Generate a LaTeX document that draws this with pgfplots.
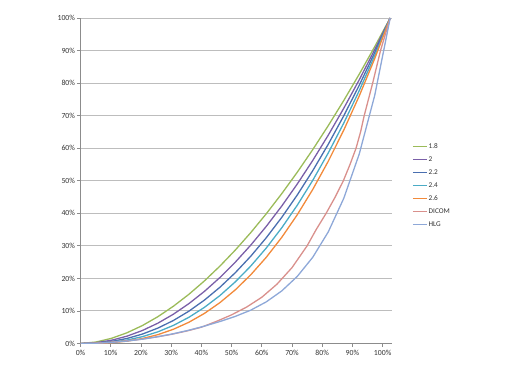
\documentclass[border=0pt]{standalone}
\usepackage{pgfplots}
\pgfplotsset{compat=1.18}
\usepackage{pgfplotstable}
\usepackage{fontspec}
\setmainfont{Carlito}

\definecolor{cg18}{HTML}{9BBB59}
\definecolor{cg20}{HTML}{7A5FA8}
\definecolor{cg22}{HTML}{4A6FB0}
\definecolor{cg24}{HTML}{4BACC6}
\definecolor{cg26}{HTML}{F28A3A}
\definecolor{cdicom}{HTML}{D9908C}
\definecolor{chlg}{HTML}{8EA8D8}
\definecolor{axisgray}{HTML}{8C8C8C}
\definecolor{gridgray}{HTML}{BDBDBD}
\definecolor{labelgray}{HTML}{333333}

% x = 1.025 * input (percent), values in percent
\pgfplotstableread{
x       g18     g20    g22     g24     g26     hlg
0       0       0      0       0       0       0
5.125   0.455   0.25   0.137   0.075   0.041   0.083
10.25   1.585   1.0    0.631   0.398   0.251   0.333
15.375  3.289   2.25   1.540   1.054   0.721   0.75
20.5    5.519   4.0    2.899   2.101   1.523   1.333
25.625  8.247   6.25   4.737   3.590   2.721   2.083
30.75   11.449  9.0    7.074   5.560   4.370   3.0
35.875  15.111  12.25  9.930   8.049   6.525   4.083
41      19.218  16.0   13.320  11.090  9.233   5.333
46.125  23.760  20.25  17.260  14.713  12.542  6.75
51.25   28.717  25.0   21.764  18.947  16.494  8.333
56.375  34.092  30.25  26.840  23.816  21.132  10.256
61.5    39.873  36.0   32.504  29.347  26.497  12.800
66.625  46.052  42.25  38.764  35.563  32.627  16.164
71.75   52.625  49.0   45.628  42.485  39.560  20.613
76.875  59.580  56.25  53.106  50.136  47.333  26.497
82      66.920  64.0   61.209  58.535  55.981  34.278
87.125  74.635  72.25  69.941  67.702  65.537  44.573
92.25   82.725  81.0   79.311  77.657  76.038  58.186
97.375  91.180  90.25  89.329  88.418  87.515  76.196
102.5   100     100    100     100     100     100
}\gammatable

\pgfplotstableread{
x      y
0      0
5      0.1
10     0.4
15     0.8
20     1.3
25     2.0
30     2.8
35     3.8
40     5.0
45     6.8
50     8.8
55     11.2
60     14.2
65     18.2
70     23.3
75     30
78     35
81.3   40
84.3   45
87     50
89.2   55
91.2   60
92.7   65
93.9   70
95.3   75
96.7   80
98.0   85
99.3   90
100.9  95
102.5  100
}\dicomtable

\begin{document}
\begin{tikzpicture}
\useasboundingbox (0,0) rectangle (520bp,369bp);
\begin{axis}[
  at={(80.5bp,25.5bp)}, anchor=south west,
  scale only axis, width=311.5bp, height=325.5bp,
  xmin=0, xmax=103.1, ymin=0, ymax=100,
  axis x line*=bottom, axis y line*=left,
  axis line style={draw=axisgray, line width=0.8bp},
  xtick={0,10,...,100},
  xticklabels={0\%,10\%,20\%,30\%,40\%,50\%,60\%,70\%,80\%,90\%,100\%},
  ytick={0,10,...,100},
  yticklabels={0\%,10\%,20\%,30\%,40\%,50\%,60\%,70\%,80\%,90\%,100\%},
  tick align=outside, major tick length=3.5bp,
  tick style={draw=axisgray, line width=0.8bp},
  ymajorgrids, grid style={draw=gridgray, line width=0.9bp},
  tick label style={font=\fontsize{7.8}{9}\selectfont, text=labelgray},
  yticklabel style={xshift=1.5bp},
  legend style={at={(1.0546,0.486)}, anchor=west, draw=none, fill=none,
    font=\fontsize{7.3}{8}\selectfont, text=labelgray,
    row sep=4.6bp,
    nodes={inner sep=1bp, text height=5.4bp, text depth=1bp}},
  legend cell align=left,
  legend image code/.code={\draw[#1, line width=1.5bp] (0bp,0bp) -- (14bp,0bp);},
  every axis plot/.append style={line width=1.3bp, line join=round},
]
\addplot[cg18, no marks] table[x=x, y=g18] {\gammatable};
\addlegendentry{1.8}
\addplot[cg20, no marks] table[x=x, y=g20] {\gammatable};
\addlegendentry{2}
\addplot[cg22, no marks] table[x=x, y=g22] {\gammatable};
\addlegendentry{2.2}
\addplot[cg24, no marks] table[x=x, y=g24] {\gammatable};
\addlegendentry{2.4}
\addplot[cg26, no marks] table[x=x, y=g26] {\gammatable};
\addlegendentry{2.6}
\addplot[cdicom, no marks] table[x=x, y=y] {\dicomtable};
\addlegendentry{DICOM}
\addplot[chlg, no marks] table[x=x, y=hlg] {\gammatable};
\addlegendentry{HLG}
\end{axis}
\end{tikzpicture}
\end{document}
